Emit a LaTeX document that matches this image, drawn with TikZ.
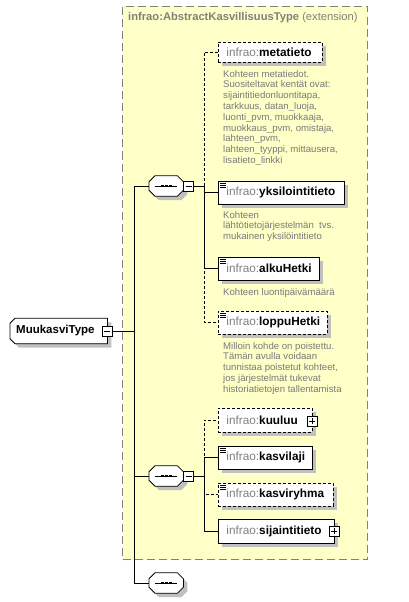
\documentclass[tikz,border=0pt]{standalone}
\usepackage{fontspec}
\setmainfont{Liberation Sans}
\usetikzlibrary{positioning}

\definecolor{boxyellow}{HTML}{FFFFC8}
\definecolor{nsgray}{HTML}{808080}
\definecolor{docgray}{HTML}{7A7A7A}
\definecolor{shadowgray}{HTML}{C0C0C0}

\newcommand{\elname}[1]{\textcolor{nsgray}{infrao:}\textbf{#1}}

\tikzset{
  shade box/.style={preaction={fill=shadowgray,transform canvas={xshift=4pt,yshift=-4pt}}},
  elem/.style={draw,fill=white,line width=0.8pt,anchor=west,inner xsep=8pt,inner ysep=0pt,
    minimum height=23pt,align=left,font=\fontsize{11.8}{13}\selectfont,shade box},
  optelem/.style={elem,dash pattern=on 3pt off 2pt},
  seqbox/.style={minimum width=34pt,minimum height=20pt,inner sep=0pt,anchor=west},
  outline/.style={fill=white,line width=0.8pt,shade box},
  pmbox/.style={draw,fill=white,line width=0.8pt,minimum size=10pt,inner sep=0pt},
  minusbox/.style={pmbox,path picture={
    \draw[line width=0.8pt] ([xshift=2pt]path picture bounding box.west) -- ([xshift=-2pt]path picture bounding box.east);}},
  plusbox/.style={pmbox,path picture={
    \draw[line width=0.8pt] ([xshift=2pt]path picture bounding box.west) -- ([xshift=-2pt]path picture bounding box.east);
    \draw[line width=0.8pt] ([yshift=-2pt]path picture bounding box.north) -- ([yshift=2pt]path picture bounding box.south);}},
  conn/.style={line width=0.8pt},
  optconn/.style={conn,dash pattern=on 3pt off 2pt},
  doc/.style={anchor=north west,inner sep=0pt,align=left,text=docgray,font=\fontsize{9.6}{10.8}\selectfont}
}

\begin{document}
\begin{tikzpicture}[x=1pt,y=-1pt]
  \useasboundingbox (0,0) rectangle (409,602);

  % extension area
  \node[draw=nsgray,fill=boxyellow,line width=1pt,dash pattern=on 8pt off 4pt,
        anchor=north west,minimum width=245pt,minimum height=553pt,inner sep=0pt] (ext) at (122,6) {};
  \node[anchor=west,text=nsgray,inner sep=0pt,font=\fontsize{11.2}{13}\selectfont] (exttitle) at (128,18)
    {\textbf{infrao:AbstractKasvillisuusType} (extension)};

  % root type
  \node[minimum width=97pt,minimum height=25pt,inner sep=0pt,anchor=west] (mt) at (10,331) {};
  \filldraw[outline] ([yshift=-5pt]mt.north west) -- ([xshift=5pt]mt.north west) -- (mt.north east)
    -- (mt.south east) -- ([xshift=5pt]mt.south west) -- ([yshift=5pt]mt.south west) -- cycle;
  \node[anchor=west,inner sep=0pt,font=\fontsize{11.5}{13}\selectfont\bfseries] (mttext) at ([xshift=6pt]mt.west) {MuukasviType};
  \node[minusbox] (mtm) at (mt.east) {};

  % sequences
  \node[seqbox] (seq1) at (149,186) {};
  \node[seqbox] (seq2) at (149,476) {};
  \node[seqbox] (seq3) at (149,583) {};
  \foreach \s in {seq1,seq2,seq3} {
    \filldraw[outline] ([xshift=6pt]\s.north west) -- ([xshift=-6pt]\s.north east) -- ([yshift=-6pt]\s.north east)
      -- ([yshift=6pt]\s.south east) -- ([xshift=-6pt]\s.south east) -- ([xshift=6pt]\s.south west)
      -- ([yshift=6pt]\s.south west) -- ([yshift=-6pt]\s.north west) -- cycle;
    \draw[line width=0.8pt] ([xshift=-11pt]\s.center) -- ([xshift=11pt]\s.center);
    \foreach \d in {-4,0,4}
      \fill ([xshift=\d pt]\s.center) +(-1.4,-1.4) rectangle +(1.4,1.4);
  }
  \node[minusbox,right=0pt of seq1] (s1m) {};
  \node[minusbox,right=0pt of seq2] (s2m) {};

  % first sequence
  \node[optelem,minimum height=20pt,text width=88pt] (meta) at (218,52) {\elname{metatieto}};
  \node[doc] (metadoc) at (223,70) {Kohteen metatiedot.\\Suositeltavat kentät ovat:\\sijaintitiedonluontitapa,\\tarkkuus, datan\_luoja,\\luonti\_pvm, muokkaaja,\\muokkaus\_pvm, omistaja,\\lahteen\_pvm,\\lahteen\_tyyppi, mittausera,\\lisatieto\_linkki};
  \node[elem,text width=110pt] (yks) at (218,192.5) {\elname{yksilointitieto}};
  \node[doc] (yksdoc) at (223,211) {Kohteen\\lähtötietojärjestelmän~ tvs.\\mukainen yksilöintitieto};
  \node[elem,text width=85pt] (alku) at (218,268.5) {\elname{alkuHetki}};
  \node[doc] (alkudoc) at (223,288) {Kohteen luontipäivämäärä};
  \node[optelem,text width=93pt] (loppu) at (218,322.5) {\elname{loppuHetki}};
  \node[doc] (loppudoc) at (223,342) {Milloin kohde on poistettu.\\Tämän avulla voidaan\\tunnistaa poistetut kohteet,\\jos järjestelmät tukevat\\historiatietojen tallentamista};

  % second sequence
  \node[optelem,minimum height=24pt,text width=78pt] (kuuluu) at (218,420) {\elname{kuuluu}};
  \node[plusbox] (kuuluup) at (312,421) {};
  \node[elem,text width=78pt] (laji) at (218,457.5) {\elname{kasvilaji}};
  \node[optelem,text width=99pt] (ryhma) at (218,494.5) {\elname{kasviryhma}};
  \node[elem,minimum height=24pt,text width=100pt] (sij) at (218,531) {\elname{sijaintitieto}};
  \node[plusbox] (sijp) at (334,531) {};

  % documentation marks
  \foreach \n in {yks,alku,loppu,laji,ryhma}
    \foreach \k in {2.5,4.5,6.5}
      \draw[line width=0.8pt] ([shift={(2,\k)}]\n.north west) -- ++(6,0);

  % connectors
  \draw[conn] (mtm.east) -- ++(22,0) |- (seq1.west);
  \draw[conn] (mtm.east) -- ++(22,0) |- (seq2.west);
  \draw[conn] (mtm.east) -- ++(22,0) |- (seq3.west);
  \draw[optconn] (s1m.east) -- ++(10,0) |- (meta.west);
  \draw[optconn] (s1m.east) -- ++(10,0) |- (loppu.west);
  \draw[conn] (s1m.east) -- ++(10,0) |- (yks.west);
  \draw[conn] (s1m.east) -- ++(10,0) |- (alku.west);
  \draw[optconn] (s2m.east) -- ++(10,0) |- (kuuluu.west);
  \draw[optconn] (s2m.east) -- ++(10,0) |- (ryhma.west);
  \draw[conn] (s2m.east) -- ++(10,0) |- (laji.west);
  \draw[conn] (s2m.east) -- ++(10,0) |- (sij.west);
\end{tikzpicture}
\end{document}
